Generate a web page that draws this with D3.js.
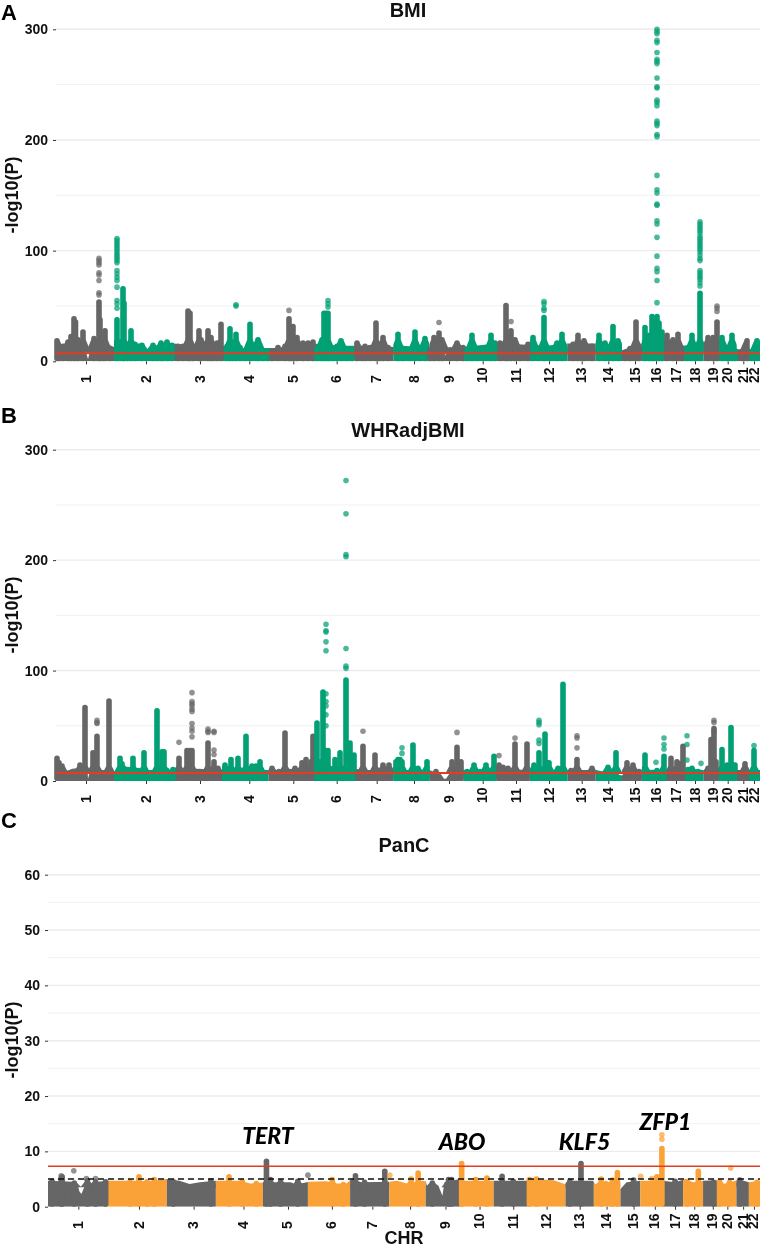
<!DOCTYPE html>
<html><head><meta charset="utf-8">
<script src="https://cdn.jsdelivr.net/npm/d3@7/dist/d3.min.js"></script>
<style>html,body{margin:0;padding:0;background:#fff}svg{display:block;filter:blur(.4px)}</style>
</head><body><svg id="c" width="761" height="1248"></svg>
<script>
const chromosomes=["1","2","3","4","5","6","7","8","9","10","11","12","13","14","15","16","17","18","19","20","21","22"];
const chrEnds=[58,117.5,166,212.5,257,298.7,337.3,373.5,407.3,440.7,473.7,511.7,539.7,566,585.7,608,628,647.7,661.7,680.7,693,704];
const chrTicks=[30,90,144,193.3,237.3,280.7,320.7,358,393,426.7,460,493,525.7,552.3,579,600,620,639,657.3,671.7,687.3,698];
const yTicksAB=[0,100,200,300], yMinorAB=[50,150,250];
const yTicksC=[0,10,20,30,40,50,60], yMinorC=[5,15,25,35,45,55];
const gwsLine=7.3, suggestiveLine=5;

const bmiBase=[[0,14],[10,15],[14,18],[25,17],[29,11],[32,2],[34,9],[38,14],[50,16],[58,13],[65,14],[75,16],[85,16],[91,11],[96,14],[117,16],[130,15],[150,15],[166,14],[180,12],[212,12],[218,12],[235,13],[250,15],[257,16],[270,15],[290,14],[298,14],[310,14],[325,14],[337,13],[347,14],[373,12],[385,11],[389,5],[393,11],[407,13],[440,16],[473,15],[490,14],[512,16],[540,16],[566,10],[585,16],[608,20],[628,14],[647,18],[662,14],[681,11],[693,11],[704,12]];
const bmiPeaks=[[1,21],[3,12],[7,16],[12,20],[15,25],[18,41],[19.5,38],[22,22],[27,29],[38,23],[43,56],[44,40],[47,19],[49,30],[54,13],[61,40],[64,20],[67,68],[68,55],[71,16],[75,30],[79,18],[86,17],[97,17],[101,12],[105,19],[107,16],[111,20],[116,17],[122,16],[127,16],[132,48],[134,46],[137,16],[143,30],[145,22],[152,30],[155,24],[157,18],[161,19],[165,36],[171,16],[174,32],[177,20],[180,27],[184,15],[189,12],[194,36],[202,22],[207,11],[212,12],[216,12],[222,15],[229,16],[233,41],[235,34],[237,34],[241,24],[247,19],[252,19],[257,20],[261,13],[264,16],[266,22],[268,46],[270,46],[272,46],[274,16],[277,13],[281,16],[285,21],[291,12],[296,12],[301,19],[306,12],[309,16],[314,15],[320,37],[323,13],[327,24],[332,15],[342,27],[347,13],[354,13],[359,29],[364,13],[369,23],[374,13],[378,24],[383,28],[386,22],[394,13],[401,19],[407,15],[411,13],[416,26],[421,13],[427,13],[435,26],[439,19],[444,19],[450,53],[452,25],[455,30],[459,22],[464,15],[472,18],[477,24],[482,13],[488,42],[494,13],[501,19],[506,27],[517,18],[522,26],[528,21],[536,16],[543,26],[549,19],[557,34],[562,21],[569,10],[574,14],[580,38],[583,15],[589,33],[593,26],[596,43],[598,36],[601,43],[603,37],[606,29],[611,26],[617,22],[622,27],[626,13],[631,14],[636,26],[639,13],[644,64],[652,24],[657,24],[661,38],[666,24],[671,13],[676,26],[679,12],[686,10],[691,21],[696,10],[701,21]];
const bmiDots=[[61,111],[61,109],[61,107],[61,105],[61,103],[61,101],[61,99],[61,97],[61,95],[61,93],[61,91],[61,89],[61,82],[61,79],[61,76],[61,73],[61,67],[61,55],[61,52],[61,48],[43,93],[43,91],[43,89],[43,87],[43,80],[43,78],[43,73],[43,62],[43,60],[180,50],[180,51],[233,46],[272,52],[272,55],[272,49],[383,35],[455,36],[488,54],[488,52],[488,48],[488,46],[601,300],[601,298],[601,296],[601,290],[601,288],[601,279],[601,273],[601,271],[601,269],[601,256],[601,248],[601,247],[601,236],[601,234],[601,231],[601,217],[601,215],[601,213],[601,205],[601,203],[601,168],[601,155],[601,152],[601,142],[601,141],[601,127],[601,124],[601,112],[601,95],[601,84],[601,81],[601,73],[601,53],[644,126],[644,124],[644,122],[644,120],[644,118],[644,116],[644,113],[644,111],[644,109],[644,107],[644,105],[644,103],[644,101],[644,99],[644,96],[644,93],[644,91],[644,82],[644,80],[644,78],[644,76],[644,74],[644,71],[644,68],[661,50],[661,48],[661,45]];

const whrBase=[[0,10],[10,9],[17,11],[24,12],[30,9],[32,2],[34,9],[45,10],[58,9],[80,10],[117,10],[140,11],[166,10],[212,10],[230,10],[257,10],[264,13],[298,11],[310,10],[337,10],[373,10],[385,6],[388,2],[390,2],[393,6],[407,10],[440,11],[474,10],[512,10],[540,10],[566,5],[570,10],[586,10],[628,11],[648,10],[662,11],[681,10],[704,10]];
const whrPeaks=[[1,23],[3,19],[6,16],[11,8],[17,11],[24,17],[29,69],[37,28],[39,26],[41,43],[46,10],[53,75],[64,23],[66,18],[68,14],[72,13],[77,23],[82,12],[88,28],[94,10],[101,66],[106,29],[108,29],[111,12],[117,13],[123,23],[127,11],[131,30],[134,30],[136,30],[144,11],[152,37],[158,20],[162,14],[169,17],[175,22],[182,23],[190,43],[196,16],[200,16],[204,20],[209,9],[216,14],[223,11],[229,46],[234,11],[239,14],[246,19],[250,22],[255,20],[257,43],[261,55],[264,20],[267,83],[270,30],[272,30],[274,14],[279,22],[284,28],[287,14],[290,94],[292,30],[294,37],[298,26],[302,9],[307,34],[314,10],[319,26],[327,17],[333,17],[340,20],[342,22],[344,22],[346,20],[357,35],[362,14],[371,20],[380,11],[396,20],[401,33],[405,20],[411,11],[418,17],[424,11],[430,17],[438,25],[443,17],[447,15],[452,14],[459,36],[465,9],[471,36],[478,17],[483,28],[489,45],[491,19],[493,19],[498,10],[502,14],[507,90],[515,12],[521,22],[528,9],[536,14],[544,8],[552,15],[560,28],[571,19],[577,17],[583,11],[589,26],[594,9],[601,12],[608,25],[615,23],[621,20],[624,18],[627,34],[632,13],[636,14],[642,11],[652,14],[655,40],[658,50],[660,20],[666,31],[671,17],[675,51],[677,17],[679,17],[684,9],[689,18],[696,9],[698,30],[701,9]];
const whrDots=[[41,55],[41,53],[41,52],[136,80],[136,72],[136,70],[136,68],[136,65],[136,63],[136,52],[136,48],[136,45],[136,40],[123,35],[152,47],[152,45],[152,44],[158,45],[158,44],[158,28],[158,24],[270,142],[270,136],[270,135],[270,126],[270,118],[270,79],[270,72],[270,68],[270,60],[270,50],[290,272],[290,242],[290,205],[290,203],[290,120],[290,104],[290,102],[307,45],[346,30],[346,25],[401,44],[443,23],[459,39],[483,55],[483,53],[483,51],[483,37],[483,34],[521,41],[521,39],[521,30],[608,39],[608,33],[608,29],[631,41],[631,33],[631,19],[645,16],[600,17],[658,55],[658,53],[658,45],[698,32]];

const pancBase=[[0,4.7],[25,4.5],[29,4.2],[31,2.8],[33,2.3],[36,3.6],[45,4.4],[58,4.7],[90,4.7],[100,4.6],[117,5],[130,4.7],[140,4.1],[150,4.4],[165,4.7],[190,4.7],[200,4.2],[215,4.4],[240,4.4],[245,4],[258,4.5],[275,4.6],[285,4.2],[295,4.2],[300,5],[310,4.4],[337,4.5],[345,4.7],[355,4.2],[370,4.7],[373.5,4.6],[375,3.5],[379.5,4.4],[386,3.8],[390,2],[392,4.4],[407.5,5],[410,4.7],[440,4.7],[473,4.7],[476,5],[500,4.8],[511,4.1],[514,4.7],[539,4.7],[541,4.1],[552,4.7],[566,3.2],[572,4.4],[586,4.7],[608,4.7],[620,4.4],[630,5],[638,4.4],[648,4.7],[661,4.8],[664,3.9],[680,4.7],[682,5],[693,4.4],[704,4.7]];
const pancPeaks=[[4,5.1],[13,5.6],[14,5.9],[26,4.8],[39,5.2],[47,5],[57,5],[81,5],[90,5.9],[98,5],[105,5.4],[124,5],[161,5.2],[179,5.9],[192,5.1],[206,4.7],[216,8.7],[220,5.4],[230,5],[247,5.1],[281,5.4],[292,4.5],[304,6.1],[313,4.9],[333,6.9],[359,5.5],[366,6.6],[380,4.8],[396,5.4],[399,5.4],[409,8.3],[423,5.4],[434,5.7],[449,6],[460,5.1],[476,5.4],[483,5.5],[516,5.1],[527,8.3],[547,5.5],[558,5.3],[563,6.7],[579,5.3],[602,5.9],[607,11],[620,5.1],[632,5],[643,6.9],[658,4.9],[664,5],[674,4.9],[684,5.3],[701,4.9]];
const pancDots=[[25.5,6.5],[13,5.6],[47,5.1],[38,5.1],[257,5.7],[338,5.7],[586,5.5],[597,5.1],[607,13],[607,12.2],[675,7]];

const panelTitles=["BMI","WHRadjBMI","PanC"];
const panelLetters=["A","B","C"];
const geneNames=["TERT","ABO","KLF5","ZFP1"];
const genePos=[217,409,530,610];
const geneVal=[11.4,10.3,10.3,13.9];

const grey="#666666", green="#02A074", orange="#FAA237", red="#E23C26";
const svg=d3.select("#c");
const sans="'Liberation Sans',Arial,sans-serif";
const R=2.8;

const layouts=[
 {left:56,y0:361.3,yTop:29.3,max:300,ticks:yTicksAB,minor:yMinorAB,base:bmiBase,peaks:bmiPeaks,dots:bmiDots,alt:green,title:panelTitles[0],letter:panelLetters[0],lb:20,tb:17,rot:195,xl:383,skirt:[8,22,8],lw:2},
 {left:56,y0:781,yTop:449.7,max:300,ticks:yTicksAB,minor:yMinorAB,base:whrBase,peaks:whrPeaks,dots:whrDots,alt:green,title:panelTitles[1],letter:panelLetters[1],lb:423,tb:437,rot:615,xl:803,skirt:[8,16,6],lw:2},
 {left:48,y0:1206.7,yTop:874.7,max:60,ticks:yTicksC,minor:yMinorC,base:pancBase,peaks:pancPeaks,dots:pancDots,alt:orange,title:panelTitles[2],letter:panelLetters[2],lb:828,tb:852,rot:1040,xl:1229,skirt:[3.5,5,7],lw:1.6}
];

layouts.forEach((p,pi)=>{
  const x=d3.scaleLinear().domain([0,704]).range([p.left,760]);
  const y=d3.scaleLinear().domain([0,p.max]).range([p.y0,p.yTop]);
  const g=svg.append("g");
  const chrIndex=pos=>Math.min(21,d3.bisectLeft(chrEnds,pos));
  const colour=pos=>chrIndex(pos)%2===0?grey:p.alt;
  // grid
  g.append("g").selectAll("line").data(p.minor).join("line").attr("x1",p.left).attr("x2",760).attr("y1",y).attr("y2",y).attr("stroke","#f1f1f1").attr("stroke-width",1);
  g.append("g").selectAll("line").data(p.ticks.filter(d=>d>0)).join("line").attr("x1",p.left).attr("x2",760).attr("y1",y).attr("y2",y).attr("stroke","#ececec").attr("stroke-width",1.4);
  // base silhouette per chromosome
  const area=d3.area().x(d=>x(d[0])).y0(p.y0).y1(d=>y(d[1]));
  chrEnds.forEach((end,i)=>{
    const start=i?chrEnds[i-1]:0, id=`cl${pi}_${i}`;
    svg.append("clipPath").attr("id",id).append("rect").attr("x",x(start)).attr("width",x(end)-x(start)).attr("y",p.yTop-10).attr("height",p.y0-p.yTop+10);
    g.append("path").attr("d",area(p.base)).attr("fill",i%2?p.alt:grey).attr("clip-path",`url(#${id})`);
  });
  // the widening foot of each peak
  const [sb,st,hw]=p.skirt;
  g.append("g").selectAll("path").data(p.peaks.filter(d=>d[1]>sb)).join("path")
    .attr("d",d=>{const t=Math.min(d[1],st),cx=x(d[0]);
      return d3.line()([[cx-hw,y(sb)],[cx-R,y(t)+R],[cx+R,y(t)+R],[cx+hw,y(sb)]]);})
    .attr("fill",d=>colour(d[0])).attr("clip-path",d=>`url(#cl${pi}_${chrIndex(d[0])})`);
  // columns of overlapping points
  g.append("g").selectAll("line").data(p.peaks).join("line")
    .attr("x1",d=>x(d[0])).attr("x2",d=>x(d[0])).attr("y1",p.y0-R).attr("y2",d=>y(d[1])+R)
    .attr("stroke",d=>colour(d[0])).attr("stroke-width",R*2).attr("stroke-linecap","round");
  g.append("g").selectAll("circle").data(p.dots).join("circle")
    .attr("cx",d=>x(d[0])).attr("cy",d=>y(d[1])).attr("r",R).attr("fill",d=>colour(d[0])).attr("opacity",.72);
  // threshold lines
  g.append("line").attr("x1",p.left).attr("x2",760).attr("y1",y(gwsLine)).attr("y2",y(gwsLine)).attr("stroke",red).attr("stroke-width",p.lw);
  if(pi===2){
    g.append("line").attr("x1",p.left).attr("x2",760).attr("y1",y(suggestiveLine)).attr("y2",y(suggestiveLine)).attr("stroke","#111").attr("stroke-width",1.4).attr("stroke-dasharray","6 4");
  }
  // axes
  const ay=g.append("g").attr("transform",`translate(${p.left},0)`).call(d3.axisLeft(y).tickValues(p.ticks).tickSize(3).tickPadding(5));
  ay.select(".domain").remove();
  ay.selectAll("line").attr("stroke","#333");
  ay.selectAll("text").attr("font-family",sans).attr("font-size",14).attr("font-weight",700).attr("fill","#111");
  const ax=g.append("g").attr("transform",`translate(0,${p.y0})`).call(d3.axisBottom(x).tickValues(chrTicks).tickSize(3).tickFormat((d,i)=>chromosomes[i]));
  ax.select(".domain").remove();
  ax.selectAll("line").attr("stroke","#333");
  ax.selectAll("text").attr("font-family",sans).attr("font-size",14).attr("font-weight",700).attr("fill","#111")
    .attr("text-anchor","start").attr("dy",0).attr("y",0)
    .attr("transform",`translate(4,${p.xl-p.y0}) rotate(-90)`);
  // text
  svg.append("text").attr("x",18).attr("y",p.rot).attr("transform",`rotate(-90 18 ${p.rot})`).attr("text-anchor","middle")
    .attr("font-family",sans).attr("font-size",18).attr("font-weight",700).attr("fill","#111").text("-log10(P)");
  svg.append("text").attr("x",(p.left+760)/2).attr("y",p.tb).attr("text-anchor","middle")
    .attr("font-family",sans).attr("font-size",20).attr("font-weight",700).attr("fill","#111").text(p.title);
  svg.append("text").attr("x",1).attr("y",p.lb).attr("font-family",sans).attr("font-size",22).attr("font-weight",700).attr("fill","#000").text(p.letter);
  if(pi===2){
    svg.selectAll(".gene").data(geneNames).join("text").attr("class","gene")
      .attr("x",(d,i)=>x(genePos[i])+.5).attr("y",(d,i)=>y(geneVal[i]))
      .attr("text-anchor","middle").attr("font-family","Lato,sans-serif").attr("font-size",23).attr("font-style","italic").attr("font-weight",900).attr("fill","#000").text(d=>d);
    svg.append("text").attr("x",404).attr("y",1243.5).attr("text-anchor","middle")
      .attr("font-family",sans).attr("font-size",18).attr("font-weight",700).attr("fill","#111").text("CHR");
  }
});
</script></body></html>
